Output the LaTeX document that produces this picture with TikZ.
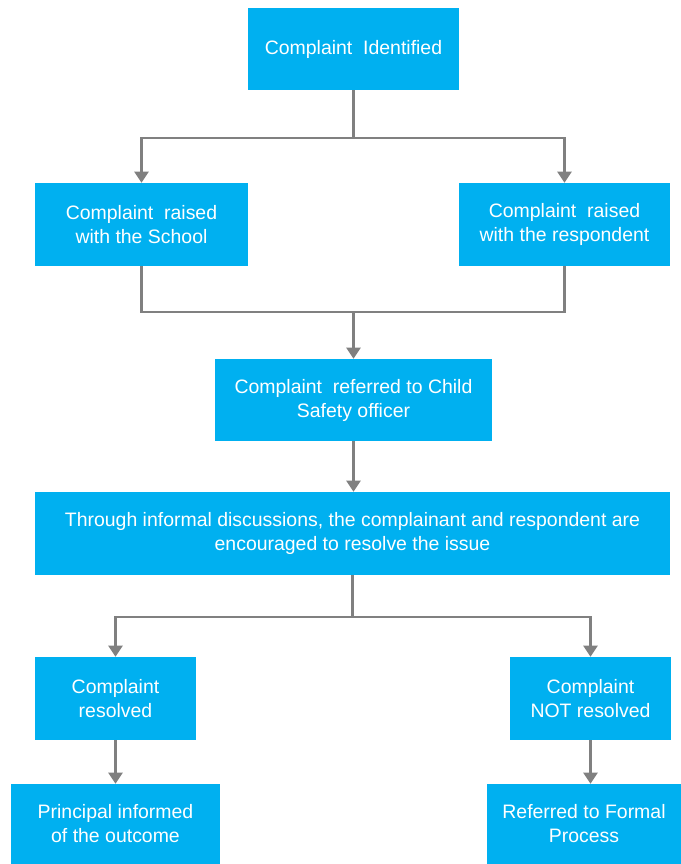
\documentclass[tikz,border=0pt]{standalone}
\usepackage{fontspec}
\setmainfont{Liberation Sans}
\usetikzlibrary{arrows.meta,positioning,calc}
\definecolor{boxblue}{HTML}{00B0F0}
\definecolor{linegray}{HTML}{808080}
\tikzset{
  stepbox/.style={fill=boxblue, text=white, align=center, inner sep=0pt,
    font=\fontsize{16.6}{20.5}\selectfont},
  flow/.style={draw=linegray, line width=1.9pt},
  flowarrow/.style={flow, -{Triangle[width=12pt,length=9.5pt]}}
}
\begin{document}
\begin{tikzpicture}[x=0.03cm, y=-0.03cm]
    \useasboundingbox (0,0) rectangle (681,864);

    % Top of the chart
    \node[stepbox, minimum width=6.33cm, minimum height=2.46cm] (ident) at (353.5,49) {Complaint\ \ Identified};

    % Where the complaint is raised
    \node[stepbox, minimum width=6.39cm, minimum height=2.49cm] (school) at (141.5,224.5) {Complaint\ \ raised\\with the School};
    \node[stepbox, minimum width=6.33cm, minimum height=2.49cm] (resp) at (564.5,224.5) {Complaint\ \ raised\\with the respondent};

    % Referral and discussions
    \node[stepbox, minimum width=8.31cm, minimum height=2.46cm] (officer) at (353.5,400) {Complaint\ \ referred to Child\\Safety officer};
    \node[stepbox, minimum width=19.05cm, minimum height=2.49cm] (discuss) at (352.5,533.5) {Through informal discussions, the complainant and respondent are\\encouraged to resolve the issue};

    % Outcomes
    \node[stepbox, minimum width=4.83cm, minimum height=2.49cm] (resolved) at (115.5,698.5) {Complaint\\resolved};
    \node[stepbox, minimum width=4.83cm, minimum height=2.49cm] (notres) at (590.5,698.5) {Complaint\\NOT resolved};
    \node[stepbox, minimum width=6.24cm, minimum height=2.4cm] (principal) at (115.5,824) {Principal informed\\of the outcome};
    \node[stepbox, minimum width=5.82cm, minimum height=2.4cm] (formal) at (584,824) {Referred to Formal\\Process};

    % Split after identification
    \coordinate (split1) at (353.5,138);
    \draw[flow] (ident.south) -- (split1);
    \draw[flowarrow] (split1) -| (school.north);
    \draw[flowarrow] (split1) -| (resp.north);

    % Join before referral
    \coordinate (join1) at (353.5,312);
    \draw[flow] (school.south) |- (join1);
    \draw[flow] (resp.south) |- (join1);
    \draw[flowarrow] (join1) -- (officer.north);
    \draw[flowarrow] (officer.south) -- (officer.south |- discuss.north);

    % Split after discussions
    \coordinate (split2) at (352.5,617);
    \draw[flow] (discuss.south) -- (split2);
    \draw[flowarrow] (split2) -| (resolved.north);
    \draw[flowarrow] (split2) -| (notres.north);

    % Final steps
    \draw[flowarrow] (resolved.south) -- (principal.north);
    \draw[flowarrow] (notres.south) -- (notres.south |- formal.north);
  \end{tikzpicture}
\end{document}
